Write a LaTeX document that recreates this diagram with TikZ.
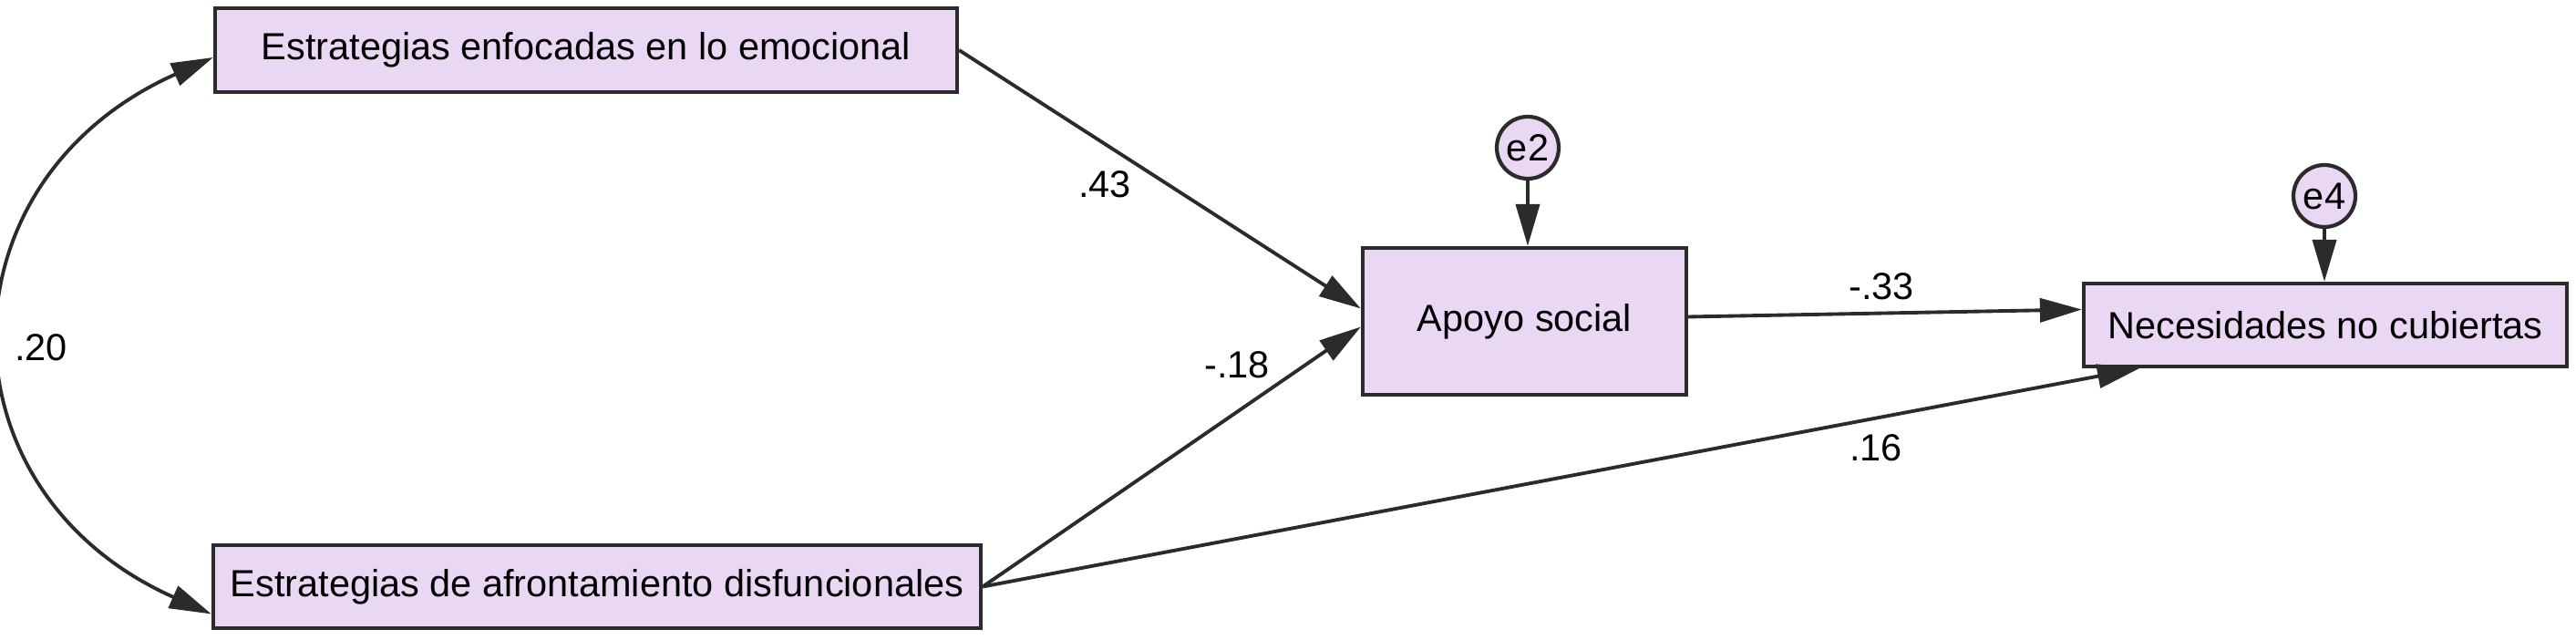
\documentclass[tikz,border=0pt]{standalone}
\usepackage{fontspec}
\setmainfont{Liberation Sans}
\usetikzlibrary{arrows.meta}
\definecolor{boxfill}{HTML}{E9D7F3}
\definecolor{boxline}{HTML}{2B2B2B}
\tikzset{
  semtip/.tip={Triangle[length=0.46cm,width=0.26cm]},
  var/.style={draw=boxline, fill=boxfill, line width=1.2pt, rectangle, inner sep=0pt},
  err/.style={draw=boxline, fill=boxfill, line width=1.2pt, circle, minimum size=0.68cm, inner sep=0pt},
  effect/.style={-semtip, line width=1.1pt, draw=boxline},
  corr/.style={semtip-semtip, line width=1.1pt, draw=boxline},
  coef/.style={inner sep=0pt}
}

\begin{document}
\begin{tikzpicture}[font=\fontsize{11.8}{14}\selectfont]
    \useasboundingbox (0,0) rectangle (28.26,7.02);
    % observed variables
    \node[var, minimum width=8.14cm, minimum height=0.92cm] (emo) at (6.43,6.47) {Estrategias enfocadas en lo emocional};
    \node[var, minimum width=8.42cm, minimum height=0.91cm] (dis) at (6.55,0.585) {Estrategias de afrontamiento disfuncionales};
    \node[var, minimum width=3.55cm, minimum height=1.61cm] (apoyo) at (16.725,3.495) {Apoyo social};
    \node[var, minimum width=5.30cm, minimum height=0.91cm] (nec) at (25.51,3.455) {Necesidades no cubiertas};
    % error terms
    \node[err] (e2) at (16.76,5.40) {e2};
    \node[err] (e4) at (25.50,4.87) {e4};
    % paths
    \draw[corr] ([yshift=-0.08cm]emo.west) to[out=204, in=156, looseness=1.39] ([yshift=-0.30cm]dis.west);
    \draw[effect] (emo.east) -- ([yshift=0.14cm]apoyo.west);
    \draw[effect] (dis.east) -- ([yshift=-0.06cm]apoyo.west);
    \draw[effect] (dis.east) -- ([xshift=0.63cm]nec.south west);
    \draw[effect] ([yshift=0.05cm]apoyo.east) -- ([yshift=0.17cm]nec.west);
    \draw[effect] (e2) -- (e2 |- apoyo.north);
    \draw[effect] (e4) -- (e4 |- nec.north);
    % coefficients
    \node[coef] (c20) at (0.45,3.21) {.20};
    \node[coef] (c43) at (12.12,5.00) {.43};
    \node[coef] (c18) at (13.57,3.02) {-.18};
    \node[coef] (c33) at (20.64,3.88) {-.33};
    \node[coef] (c16) at (20.58,2.11) {.16};
\end{tikzpicture}
\end{document}
